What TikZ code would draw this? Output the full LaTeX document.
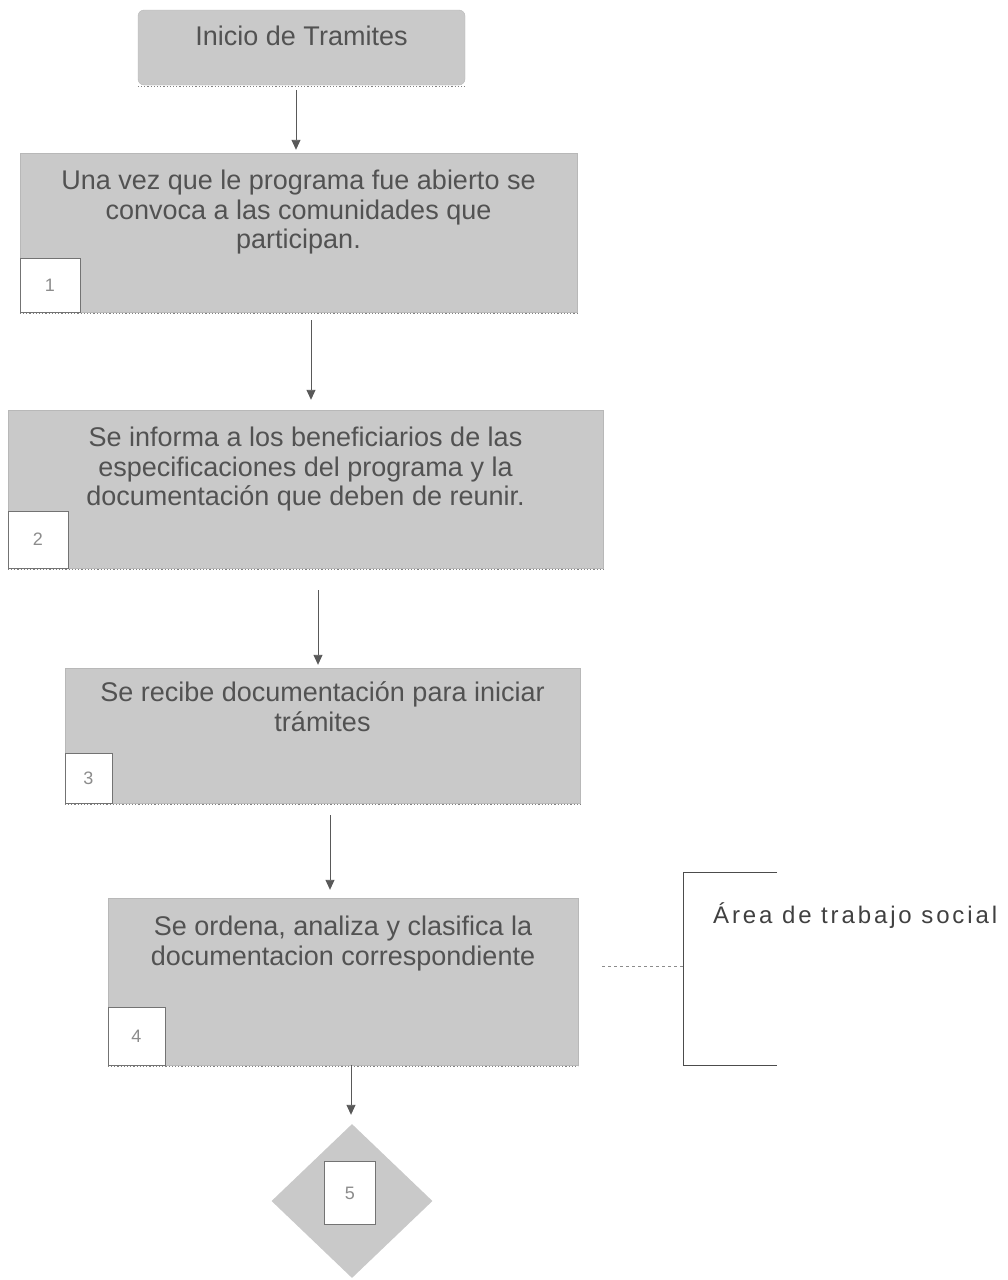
\documentclass[tikz,border=0pt]{standalone}
\usepackage{fontspec}
\setmainfont{Liberation Sans}
\usetikzlibrary{positioning,shapes.geometric,arrows.meta}

\begin{document}
\begin{tikzpicture}[x=1pt, y=-1pt,
        stepbox/.style={draw=black!28, fill=black!21, inner sep=0},
        steptext/.style={inner sep=0, align=center, text=black!68, font=\fontsize{27}{29.5}\selectfont},
        numbox/.style={draw=black!55, fill=white, inner sep=0, text=black!45, font=\fontsize{18}{18}\selectfont},
        flow/.style={draw=black!65, line width=0.9pt, -{Triangle[width=9pt,length=10pt]}},
        shade/.style={draw=black!50, line width=1.2pt, dotted}]
        \useasboundingbox (0,0) rectangle (1007,1280);

        % pasos
        \node[stepbox, rounded corners=6pt, minimum width=327pt, minimum height=75pt] (I) at (301.5,47.5) {};
        \node[stepbox, minimum width=557pt, minimum height=159pt] (P1) at (298.5,232.5) {};
        \node[stepbox, minimum width=595pt, minimum height=158pt] (P2) at (305.5,489) {};
        \node[stepbox, minimum width=515pt, minimum height=135pt] (P3) at (322.5,735.5) {};
        \node[stepbox, minimum width=470pt, minimum height=167pt] (P4) at (343,981.5) {};
        \node[stepbox, diamond, draw=none, minimum width=161pt, minimum height=154pt] (D) at (352,1201) {};
        \foreach \b in {I,P1,P2,P3,P4}
                \draw[shade] ([yshift=-1.5pt]\b.south west) -- ([yshift=-1.5pt]\b.south east);

        \node[steptext, below=16pt of I.north] (TI) {Inicio de Tramites};
        \node[steptext, below=17pt of P1.north] (T1) {Una vez que le programa fue abierto se\\ convoca a las comunidades que\\ participan.};
        \node[steptext, below=17pt of P2.north] (T2) {Se informa a los beneficiarios de las\\ especificaciones del programa y la\\ documentación que deben de reunir.};
        \node[steptext, below=14pt of P3.north] (T3) {Se recibe documentación para iniciar\\ trámites};
        \node[steptext, below=18pt of P4.north] (T4) {Se ordena, analiza y clasifica la\\ documentacion correspondiente};

        % numeros
        \node[numbox, anchor=south west, minimum width=60pt, minimum height=54pt] (N1) at (P1.south west) {1};
        \node[numbox, anchor=south west, minimum width=60pt, minimum height=57pt] (N2) at (P2.south west) {2};
        \node[numbox, anchor=south west, minimum width=47pt, minimum height=50pt] (N3) at (P3.south west) {3};
        \node[numbox, anchor=south west, minimum width=57pt, minimum height=58pt] (N4) at (P4.south west) {4};
        \node[numbox, minimum width=51pt, minimum height=63pt] (N5) at ([xshift=-2pt,yshift=8pt]D.center) {5};

        % flechas
        \draw[flow, shorten <=5pt, shorten >=3pt] ([xshift=-5.5pt]I.south) -- ([xshift=-2.5pt]P1.north);
        \draw[flow, shorten <=8pt, shorten >=10pt] ([xshift=12.5pt]P1.south) -- ([xshift=5.5pt]P2.north);
        \draw[flow, shorten <=22pt, shorten >=3pt] ([xshift=12.5pt]P2.south) -- ([xshift=-4.5pt]P3.north);
        \draw[flow, shorten <=12pt, shorten >=8pt] ([xshift=7.5pt]P3.south) -- ([xshift=-13pt]P4.north);
        \draw[flow, shorten >=9pt] ([xshift=8pt]P4.south) -- ([xshift=-1pt]D.north);

        % area
        \coordinate (BT) at (777,872);
        \coordinate (BC) at (683,966);
        \coordinate (BB) at (777,1065);
        \draw[black!70, line width=0.8pt] (BT) -- (BT -| BC) -- (BB -| BC) -- (BB);
        \draw[black!45, dashed, shorten <=24pt] (BC -| P4.east) -- (BC);
        \node[anchor=base west, inner sep=0, text=black!75, font=\fontsize{24}{24}\selectfont\addfontfeature{LetterSpace=12}] (A) at (713,923) {Área de trabajo social};
\end{tikzpicture}
\end{document}
